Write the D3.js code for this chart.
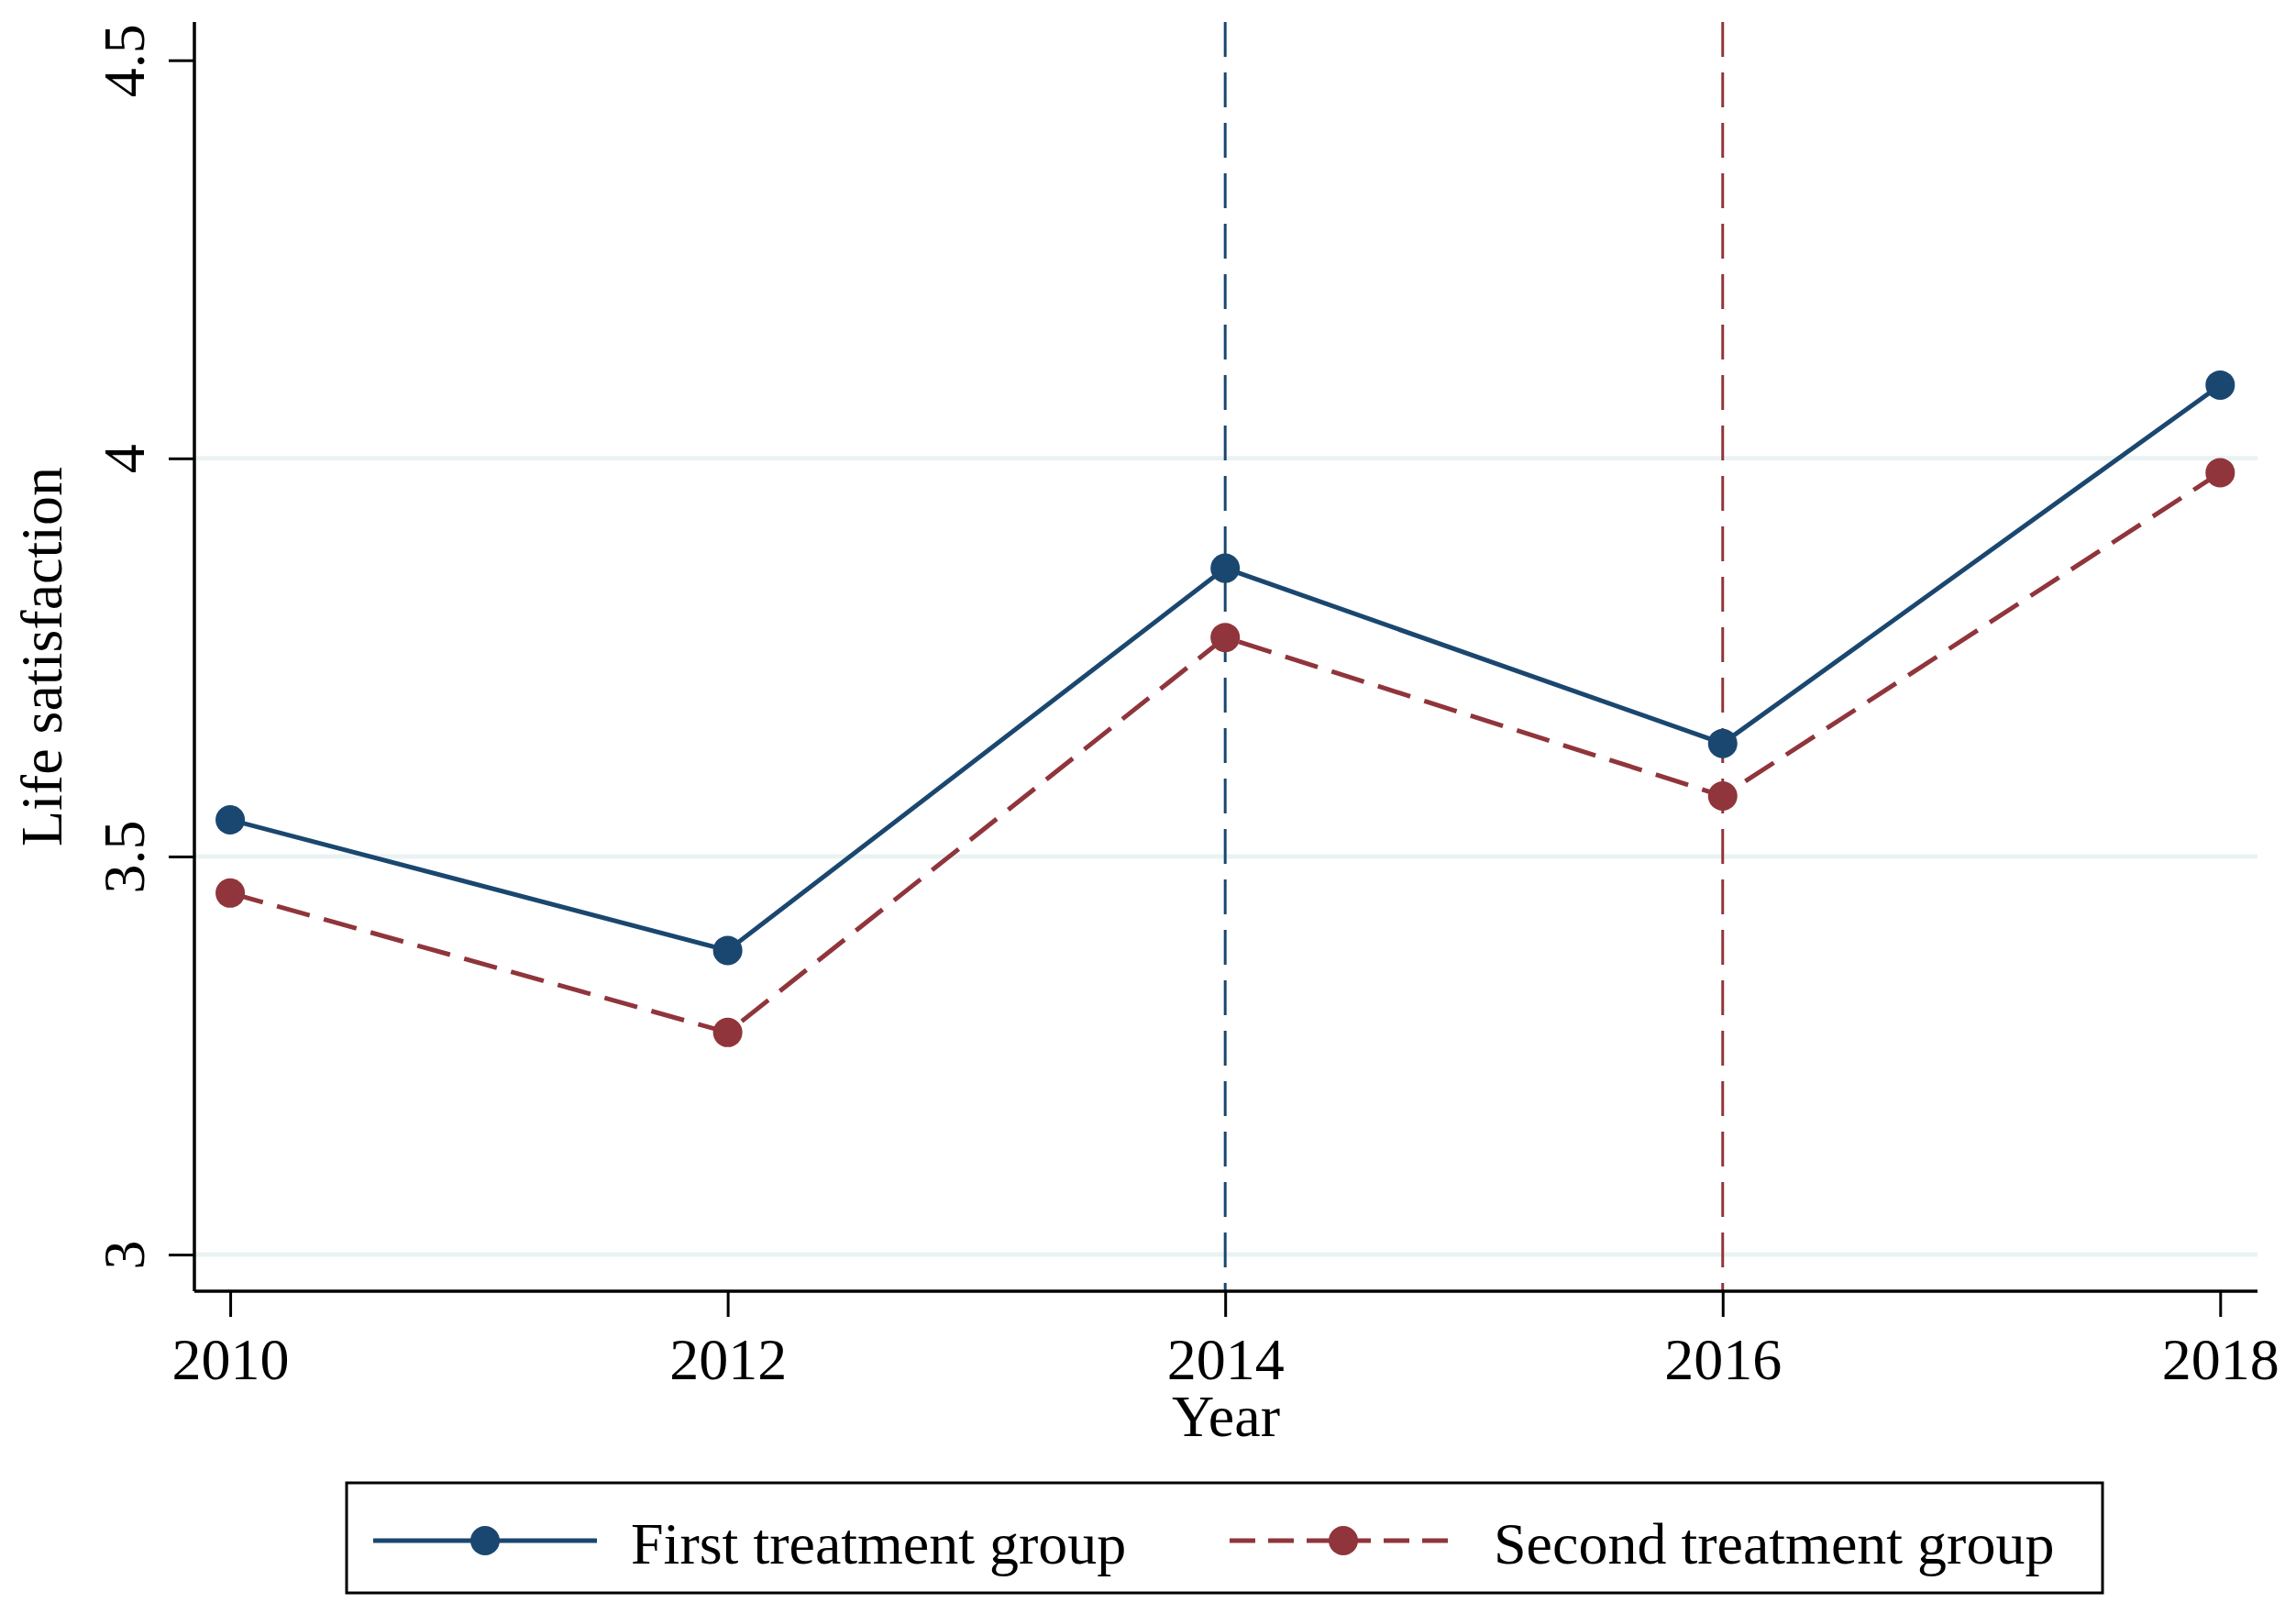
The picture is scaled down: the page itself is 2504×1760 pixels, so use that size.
<!DOCTYPE html>
<html>
<head>
<meta charset="utf-8">
<script src="https://cdn.jsdelivr.net/npm/d3@7"></script>
<style>
  body { margin: 0; background: #ffffff; }
  text { font-family: "Liberation Serif", "Times New Roman", serif; fill: #000; }
</style>
</head>
<body>
<div id="chart"></div>
<script>
/*DATA*/
const years = [2010, 2012, 2014, 2016, 2018];
const firstGroup = [3.546, 3.382, 3.862, 3.642, 4.092];
const secondGroup = [3.454, 3.279, 3.775, 3.576, 3.982];
const yTicks = [3, 3.5, 4, 4.5];
const gridValues = [3, 3.5, 4];
const treatmentYears = [2014, 2016];
const seriesNames = ["First treatment group", "Second treatment group"];

/*CONFIGURATION*/
const config = {
    width: 2504,
    height: 1760,
    left: 212, right: 2462, top: 24, bottom: 1408,
    fontSize: 64
};
const BLUE = "#1a476f";
const RED = "#90353b";
const GRID = "#eaf2f3";

const svg = d3.select("#chart")
    .append("svg")
    .attr("width", config.width)
    .attr("height", config.height);

svg.append("rect")
    .attr("width", config.width)
    .attr("height", config.height)
    .attr("fill", "#ffffff");

// scales
const x = d3.scaleLinear()
    .domain([2009.856, 2018.15])
    .range([config.left, config.right]);

const y = d3.scaleLinear()
    .domain([2.954, 4.548])
    .range([config.bottom, config.top]);

// gridlines
svg.append("g")
    .selectAll("line")
    .data(gridValues)
    .enter()
    .append("line")
    .attr("x1", config.left)
    .attr("x2", config.right)
    .attr("y1", d => y(d))
    .attr("y2", d => y(d))
    .attr("stroke", GRID)
    .attr("stroke-width", 5);

// vertical treatment lines
const treatColors = [BLUE, RED];
svg.append("g")
    .selectAll("line")
    .data(treatmentYears)
    .enter()
    .append("line")
    .attr("x1", d => x(d))
    .attr("x2", d => x(d))
    .attr("y1", config.top)
    .attr("y2", config.bottom)
    .attr("stroke", (d, i) => treatColors[i])
    .attr("stroke-width", 3)
    .attr("stroke-dasharray", "38,17");

// Y axis
const yAxis = svg.append("g")
    .attr("transform", `translate(${config.left},0)`)
    .call(d3.axisLeft(y)
        .tickValues(yTicks)
        .tickSize(28)
        .tickFormat(d3.format("")));

yAxis.select(".domain")
    .attr("d", `M0,${config.top}V${config.bottom}`)
    .attr("stroke-width", 3.5);
yAxis.selectAll(".tick line").attr("stroke-width", 3);
yAxis.selectAll(".tick text")
    .attr("transform", "rotate(-90)")
    .attr("x", 0)
    .attr("y", -55)
    .attr("dy", 0)
    .attr("text-anchor", "middle")
    .style("font-size", config.fontSize + "px")
    .style("font-family", "Liberation Serif");

// X axis
const xAxis = svg.append("g")
    .attr("transform", `translate(0,${config.bottom})`)
    .call(d3.axisBottom(x)
        .tickValues(years)
        .tickSize(28)
        .tickFormat(d3.format("d")));

xAxis.select(".domain")
    .attr("d", `M${config.left},0H${config.right}`)
    .attr("stroke-width", 3.5);
xAxis.selectAll(".tick line").attr("stroke-width", 3);
xAxis.selectAll(".tick text")
    .attr("y", 96)
    .attr("dy", 0)
    .style("font-size", config.fontSize + "px")
    .style("font-family", "Liberation Serif");

// axis titles
svg.append("text")
    .attr("transform", `translate(67,${(config.top + config.bottom) / 2}) rotate(-90)`)
    .attr("text-anchor", "middle")
    .style("font-size", config.fontSize + "px")
    .text("Life satisfaction");

svg.append("text")
    .attr("x", (config.left + config.right) / 2)
    .attr("y", 1566)
    .attr("text-anchor", "middle")
    .style("font-size", config.fontSize + "px")
    .text("Year");

/*SERIES*/
const series = [
    { name: seriesNames[0], values: firstGroup, color: BLUE, dash: null },
    { name: seriesNames[1], values: secondGroup, color: RED, dash: "37,16" }
];

const line = d3.line()
    .x((d, i) => x(years[i]))
    .y(d => y(d));

series.forEach(s => {
    svg.append("path")
        .datum(s.values)
        .attr("d", line)
        .attr("fill", "none")
        .attr("stroke", s.color)
        .attr("stroke-width", 5)
        .attr("stroke-dasharray", s.dash);

    svg.append("g")
        .selectAll("circle")
        .data(s.values)
        .enter()
        .append("circle")
        .attr("cx", (d, i) => x(years[i]))
        .attr("cy", d => y(d))
        .attr("r", 16)
        .attr("fill", s.color);
});

/*LEGEND*/
const legend = svg.append("g");
legend.append("rect")
    .attr("x", 378)
    .attr("y", 1617)
    .attr("width", 1915)
    .attr("height", 120)
    .attr("fill", "#ffffff")
    .attr("stroke", "#000")
    .attr("stroke-width", 3);

const legendItems = [
    { key: [407, 651], text: 688 },
    { key: [1341, 1589], text: 1629 }
];

series.forEach((s, i) => {
    const item = legendItems[i];
    const ky = 1680;
    legend.append("line")
        .attr("x1", item.key[0])
        .attr("x2", item.key[1])
        .attr("y1", ky)
        .attr("y2", ky)
        .attr("stroke", s.color)
        .attr("stroke-width", 5)
        .attr("stroke-dasharray", s.dash ? "28,14" : null);
    legend.append("circle")
        .attr("cx", (item.key[0] + item.key[1]) / 2)
        .attr("cy", ky)
        .attr("r", 16)
        .attr("fill", s.color);
    legend.append("text")
        .attr("x", item.text)
        .attr("y", 1705)
        .style("font-size", config.fontSize + "px")
        .text(s.name);
});
</script>
</body>
</html>
